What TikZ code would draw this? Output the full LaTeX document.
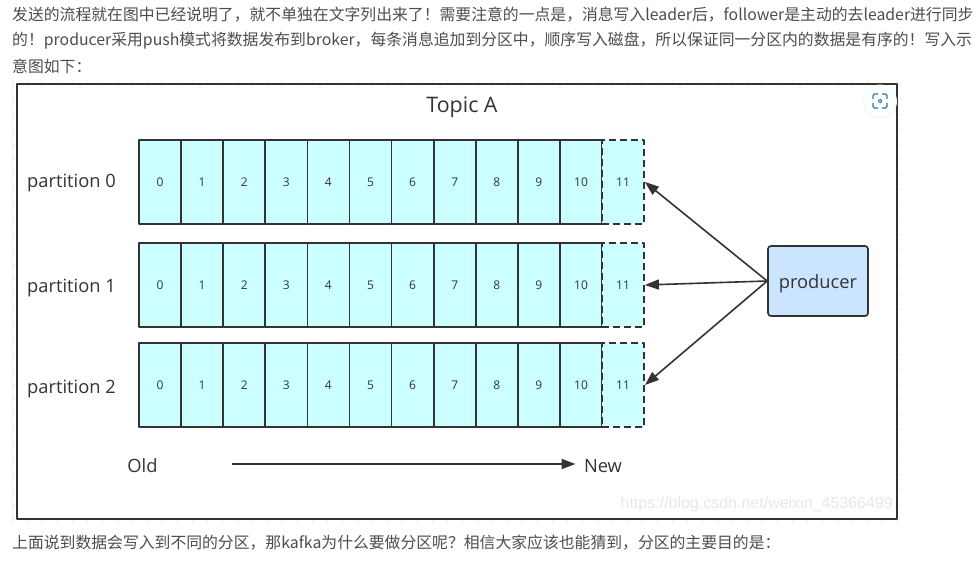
\documentclass[tikz,border=0pt]{standalone}
\usepackage{fontspec}
\newfontfamily\cjk{Noto Sans CJK SC}
\newfontfamily\markfont{Liberation Sans}
\setmainfont{Open Sans}
\usetikzlibrary{arrows.meta}
\definecolor{ink}{HTML}{333333}
\definecolor{bodytext}{HTML}{4d4d4d}
\definecolor{cell}{HTML}{ccffff}
\definecolor{producer}{HTML}{cce5ff}
\definecolor{iconblue}{HTML}{2f6fbd}

\begin{document}
\begin{tikzpicture}[
  x=1pt, y=-1pt,
  line join=round,
  every node/.style={inner sep=0pt, text=ink},
  para/.style={anchor=west, font=\cjk\fontsize{15.83}{18}\selectfont, text=bodytext},
  label/.style={font=\fontsize{18.3}{20}\selectfont},
  frame/.style={draw=ink, fill=white, line width=2pt},
  cellbox/.style={draw=ink, fill=cell, line width=1.7pt, minimum width=42.1pt, minimum height=84pt, font=\fontsize{12}{14}\selectfont},
  newcell/.style={cellbox, dash pattern=on 7pt off 4pt},
  producerbox/.style={draw=ink, fill=producer, line width=1.7pt, rounded corners=3pt, minimum width=100pt, minimum height=70pt, font=\fontsize{18.3}{20}\selectfont},
  link/.style={draw=ink, line width=1.6pt, -{Triangle[length=14pt, width=10pt]}},
]
\useasboundingbox (0,0) rectangle (980,564);
\fill[white] (0,0) rectangle (980,564);
% faint grid behind the frame
\foreach \gridx in {12.5,27.5,...,902} \draw[black!5, line width=0.6pt] (\gridx,80) -- (\gridx,524);
\foreach \gridy in {84,99,...,524} \draw[black!5, line width=0.6pt] (12,\gridy) -- (902,\gridy);
\draw[frame] (17,84) rectangle (897,519);

\node[para] (line0) at (12,15) {发送的流程就在图中已经说明了，就不单独在文字列出来了！需要注意的一点是，消息写入leader后，follower是主动的去leader进行同步};
\node[para] (line1) at (12,41) {的！producer采用push模式将数据发布到broker，每条消息追加到分区中，顺序写入磁盘，所以保证同一分区内的数据是有序的！写入示};
\node[para] (line2) at (12,66) {意图如下：};
\node[para] (line3) at (12,543) {上面说到数据会写入到不同的分区，那kafka为什么要做分区呢？相信大家应该也能猜到，分区的主要目的是：};

\node[label, font=\fontsize{21.4}{24}\selectfont] (topic) at (462,107) {Topic A};

% partitions
\foreach \row/\rowy in {0/183,1/288,2/389} {
  \node[label] (name\row) at (71.5,\rowy) {partition \row};
}
\foreach \row/\rowy in {0/182,1/285,2/385} {
  \foreach \cell in {0,...,10}
    \node[cellbox] (p\row c\cell) at (160+42.1*\cell,\rowy) {\cell};
  \node[newcell] (p\row c11) at (623,\rowy) {11};
}

\node[producerbox] (producer) at (818,281) {\raisebox{-7pt}[0pt][0pt]{producer}};
\foreach \row in {0,1,2}
  \draw[link] (producer.west) -- (p\row c11.east);

\node[label] (old) at (142.5,466) {Old};
\node[label] (new) at (603,466) {New};
\coordinate (start) at (232,464);
\coordinate (stop) at (575.5,464);
\draw[link] (start) -- (stop);

% screenshot button
\fill[black!4] (880,101.5) circle (17pt);
\fill[white] (880,101) circle (16pt);
\draw[iconblue, line width=1.1pt, rounded corners=1.5pt] (873,99) -- (873,94) -- (878,94);
\draw[iconblue, line width=1.1pt, rounded corners=1.5pt] (882,94) -- (887,94) -- (887,99);
\draw[iconblue, line width=1.1pt, rounded corners=1.5pt] (887,103) -- (887,108) -- (882,108);
\draw[iconblue, line width=1.1pt, rounded corners=1.5pt] (878,108) -- (873,108) -- (873,103);
\draw[iconblue, line width=1pt] (880,101) circle (1.8pt);

\node[anchor=east, text=black!9, font=\markfont\fontsize{16}{18}\selectfont] (mark) at (893,504) {https://blog.csdn.net/weixin\_45366499};
\end{tikzpicture}
\end{document}
